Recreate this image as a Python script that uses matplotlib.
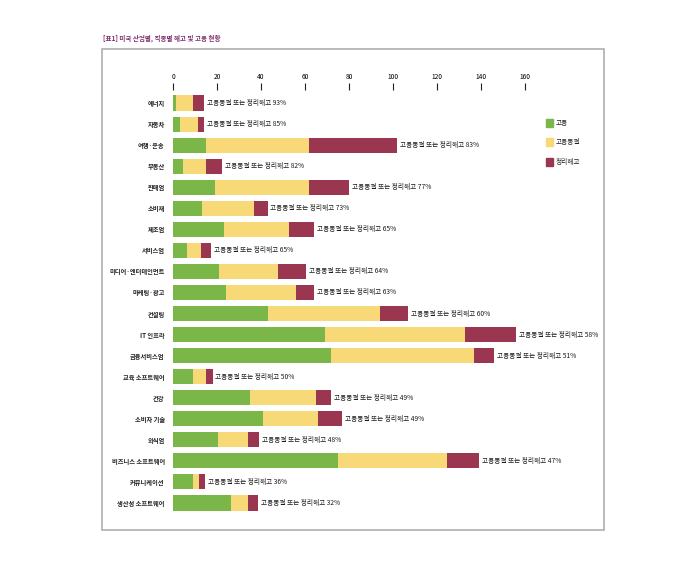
import numpy as np
import matplotlib
matplotlib.use("Agg")
from matplotlib import pyplot as plt
from matplotlib.patches import Rectangle

plt.rcParams['font.family'] = ['Noto Sans CJK KR', 'DejaVu Sans']

title = '[표1] 미국 산업별, 직종별 해고 및 고용 현황'

industries = ['에너지', '자동차', '여행·운송', '부동산', '판매업', '소비재', '제조업',
              '서비스업', '미디어·엔터테인먼트', '마케팅·광고', '컨설팅', 'IT 인프라',
              '금융서비스업', '교육 소프트웨어', '건강', '소비자 기술', '외식업',
              '비즈니스 소프트웨어', '커뮤니케이션', '생산성 소프트웨어']
hiring = [1.5, 3, 15, 4.5, 19, 13, 23, 6.5, 21, 24, 43, 69, 72, 9, 35, 41, 20.5, 75, 9, 26.5]
freeze = [7.5, 8.5, 47, 10.5, 43, 24, 29.5, 6.3, 26.5, 32, 51, 63.5, 65, 6, 30, 25, 13.5, 49.5, 3, 7.5]
layoff = [5, 2.5, 40, 7.3, 18, 6, 11.5, 4.6, 12.8, 8, 13, 23.5, 9, 3, 7, 11, 5, 14.5, 2.7, 4.5]
share = [93, 85, 83, 82, 77, 73, 65, 65, 64, 63, 60, 58, 51, 50, 49, 49, 48, 47, 36, 32]
legend_names = ['고용', '고용동결', '정리해고']
ticks = [0, 20, 40, 60, 80, 100, 120, 140, 160]

green = '#7ab648'
yellow = '#f8d977'
maroon = '#9b3651'

W, H = 696, 564
fig = plt.figure(figsize=(W / 100, H / 100), dpi=100)

# outer grey frame
fig.patches.append(Rectangle((102 / W, 1 - 530 / H), (604 - 102) / W, (530 - 49) / H,
                             transform=fig.transFigure, fill=False,
                             edgecolor='#a8a8a8', linewidth=1.1))
fig.text(103 / W, 1 - 38 / H, title, fontsize=4.7, fontweight='bold',
         color='#7d2e6c', va='center', ha='left')

ax = fig.add_axes([173 / W, 1 - 516 / H, (602 - 173) / W, (516 - 90) / H])
y = np.arange(len(industries))
hiring = np.array(hiring)
freeze = np.array(freeze)
layoff = np.array(layoff)

ax.barh(y, hiring, height=0.72, color=green, label=legend_names[0])
ax.barh(y, freeze, left=hiring, height=0.72, color=yellow, label=legend_names[1])
ax.barh(y, layoff, left=hiring + freeze, height=0.72, color=maroon, label=legend_names[2])

totals = hiring + freeze + layoff
for yi, t, s in zip(y, totals, share):
    ax.text(t + 1.3, yi, f'고용동결 또는 정리해고 {s}%', fontsize=4.8,
            va='center', ha='left', color='#1a1a1a')

ax.set_xlim(0, 195)
ax.set_ylim(len(industries) - 0.38, -0.62)
ax.set_yticks(y)
ax.set_yticklabels(industries, fontsize=4.5, fontweight='bold', color='#222222')
ax.tick_params(axis='y', length=0, pad=6)
ax.xaxis.tick_top()
ax.set_xticks(ticks)
ax.tick_params(axis='x', direction='out', length=5, width=0.8, pad=1.5,
               labelsize=4.8, color='#222222')
for sp in ax.spines.values():
    sp.set_visible(False)

# legend squares
for i, (name, col) in enumerate(zip(legend_names, [green, yellow, maroon])):
    yy = [123, 142, 162][i]
    fig.patches.append(Rectangle((546 / W, 1 - (yy + 3.5) / H), 7 / W, 7 / H,
                                 transform=fig.transFigure, color=col))
    fig.text(556 / W, 1 - yy / H, name, fontsize=4.8, va='center', ha='left',
             color='#222222')

fig.savefig('out.png', dpi=100)
